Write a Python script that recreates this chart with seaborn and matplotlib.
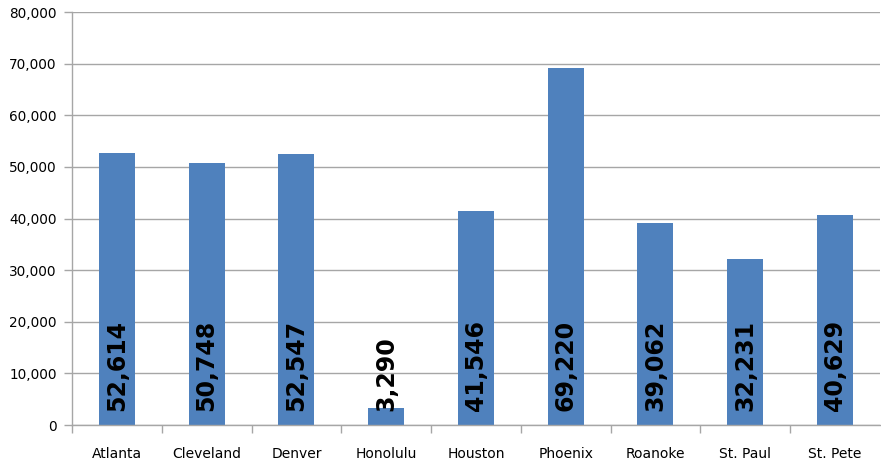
import matplotlib
matplotlib.use("Agg")
import matplotlib.pyplot as plt
import seaborn as sns
import pandas as pd
import numpy as np
from matplotlib.ticker import FuncFormatter, MultipleLocator, FixedLocator

cities = ["Atlanta", "Cleveland", "Denver", "Honolulu", "Houston", "Phoenix", "Roanoke", "St. Paul", "St. Pete"]
values = [52614, 50748, 52547, 3290, 41546, 69220, 39062, 32231, 40629]

df = pd.DataFrame({"city": cities, "value": values})

sns.set_theme(style="white")
plt.rcParams['font.family'] = ['DejaVu Sans']

fig = plt.figure(figsize=(8.81, 4.67), dpi=100)
ax = fig.add_axes([0.0817, 0.0899, 0.917, 0.8844])

sns.barplot(data=df, x="city", y="value", color="#4F81BD", saturation=1, width=0.4,
            linewidth=0, ax=ax)

ax.set_ylim(0, 80000)
ax.set_xlim(-0.5, len(cities) - 0.5)
ax.yaxis.set_major_locator(MultipleLocator(10000))
ax.yaxis.set_major_formatter(FuncFormatter(lambda v, p: f"{int(v):,}"))
ax.set_axisbelow(True)
ax.grid(axis="y", color="#A6A6A6", linewidth=1)
ax.grid(axis="x", visible=False)
ax.set_xlabel("")
ax.set_ylabel("")

for s in ["top", "right"]:
    ax.spines[s].set_visible(False)
for s in ["left", "bottom"]:
    ax.spines[s].set_visible(True)
    ax.spines[s].set_color("#A6A6A6")
    ax.spines[s].set_linewidth(1)

ax.tick_params(axis="y", which="major", left=True, length=6, width=1, color="#A6A6A6",
               labelsize=9.8, labelcolor="#000000", pad=5)
ax.tick_params(axis="x", which="major", bottom=False, length=0, labelsize=10,
               labelcolor="#000000", pad=16)
ax.xaxis.set_minor_locator(FixedLocator(np.arange(-0.5, len(cities) - 1, 1.0)))
ax.tick_params(axis="x", which="minor", bottom=True, length=6, width=1, color="#A6A6A6")

for i, v in enumerate(values):
    ax.text(i, 2800, f"{v:,}", rotation=90, ha="center", va="bottom",
            fontsize=17, fontweight="bold", color="#000000")

fig.savefig("out.png", dpi=100)
